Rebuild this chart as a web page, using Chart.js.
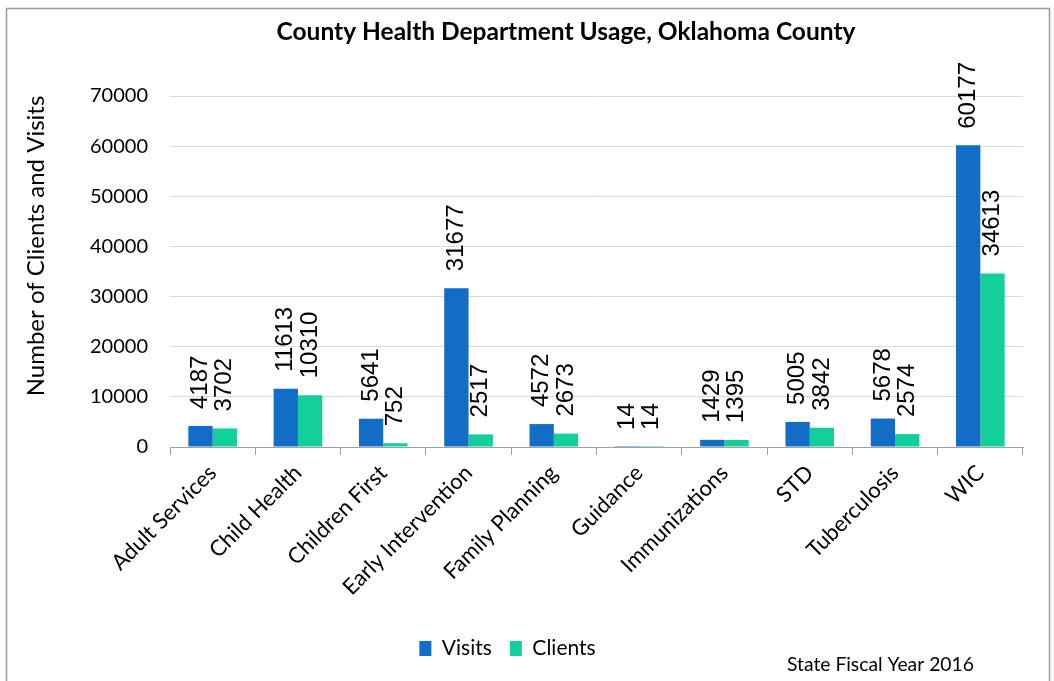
<!DOCTYPE html>
<html>
<head>
<meta charset="utf-8">
<script src="https://cdn.jsdelivr.net/npm/chart.js@4"></script>
<style>
  html, body { margin: 0; padding: 0; background: #fff; }
  #wrap { width: 1054px; height: 681px; position: relative; }
</style>
</head>
<body>
<div id="wrap"><canvas id="chart"></canvas></div>
<script>
// Data
const categories = ["Adult Services", "Child Health", "Children First", "Early Intervention",
  "Family Planning", "Guidance", "Immunizations", "STD", "Tuberculosis", "WIC"];
const visits = [4187, 11613, 5641, 31677, 4572, 14, 1429, 5005, 5678, 60177];
const clients = [3702, 10310, 752, 2517, 2673, 14, 1395, 3842, 2574, 34613];
const yTicks = [0, 10000, 20000, 30000, 40000, 50000, 60000, 70000];

const titleText = "County Health Department Usage, Oklahoma County";
const yTitleText = "Number of Clients and Visits";
const footText = "State Fiscal Year 2016";

// frame, titles, footnote
const decor = {
  id: "decor",
  beforeDraw(chart) {
    const c = chart.ctx;
    c.save();
    c.fillStyle = "#fff";
    c.fillRect(0, 0, chart.width, chart.height);
    c.strokeStyle = "#9a9a9a";
    c.lineWidth = 1.5;
    c.strokeRect(6.5, 8.5, 1043, 700);
    c.restore();
  },
  afterDraw(chart) {
    const c = chart.ctx;
    c.save();
    c.fillStyle = "#000";
    c.textAlign = "center";
    c.textBaseline = "middle";
    c.font = "bold 24.5px Lato";
    c.fillText(titleText, 566, 32);
    // y axis title, sits above the plot's middle in the reference
    c.save();
    c.translate(36, 246);
    c.rotate(-Math.PI / 2);
    c.font = "24px Lato";
    c.fillText(yTitleText, 0, 0);
    c.restore();
    c.textAlign = "left";
    c.font = "19.3px Lato";
    c.fillText(footText, 787, 665);
    c.restore();
  },
  afterLayout(chart) {
    // legend in the reference sits a bit left of centre
    chart.legend.left -= 14;
    chart.legend.right -= 14;
  }
};

// rotated value labels above each bar
const valueLabels = {
  id: "valueLabels",
  afterDatasetsDraw(chart) {
    const c = chart.ctx;
    c.save();
    c.fillStyle = "#000";
    c.font = "24px 'Liberation Sans'";
    c.textAlign = "left";
    c.textBaseline = "middle";
    chart.data.datasets.forEach((ds, i) => {
      chart.getDatasetMeta(i).data.forEach((bar, j) => {
        const txt = String(ds.data[j]);
        const w = c.measureText(txt).width;
        // keep the label inside the frame, below the title
        const start = Math.max(bar.y - 17, 62 + w);
        c.save();
        c.translate(bar.x, start);
        c.rotate(-Math.PI / 2);
        c.fillText(txt, 0, 0);
        c.restore();
      });
    });
    c.restore();
  }
};

new Chart(document.getElementById("chart"), {
  type: "bar",
  data: {
    labels: categories,
    datasets: [
      { label: "Visits", data: visits, backgroundColor: "#116dc6" },
      { label: "Clients", data: clients, backgroundColor: "#13cf9b" }
    ]
  },
  options: {
    responsive: true,
    maintainAspectRatio: false,
    animation: false,
    categoryPercentage: 0.57,
    barPercentage: 1,
    layout: { padding: { top: 96, left: 20, right: 31, bottom: 12 } },
    plugins: {
      title: { display: false },
      tooltip: { enabled: false },
      legend: {
        position: "bottom",
        labels: {
          boxWidth: 12,
          boxHeight: 15,
          padding: 18,
          color: "#000",
          font: { family: "Lato", size: 21 }
        }
      }
    },
    scales: {
      x: {
        grid: {
          display: true,
          drawOnChartArea: false,
          drawTicks: true,
          tickLength: 8,
          offset: true,
          color: "#a0a0a0"
        },
        border: { display: true, color: "#a0a0a0" },
        ticks: {
          minRotation: 45,
          maxRotation: 45,
          color: "#000",
          padding: 5,
          font: { family: "Lato", size: 22 }
        },
        afterFit(s) { s.height = 173; }
      },
      y: {
        min: 0,
        max: 70000,
        afterBuildTicks(s) { s.ticks = yTicks.map(v => ({ value: v })); },
        grid: { color: "#d9d9d9", drawTicks: false },
        border: { display: false },
        ticks: {
          color: "#000",
          padding: 22,
          font: { family: "Lato", size: 20 },
          callback: v => String(v)
        },
        afterFit(s) { s.width = 150; }
      }
    }
  },
  plugins: [decor, valueLabels]
});
</script>
</body>
</html>
